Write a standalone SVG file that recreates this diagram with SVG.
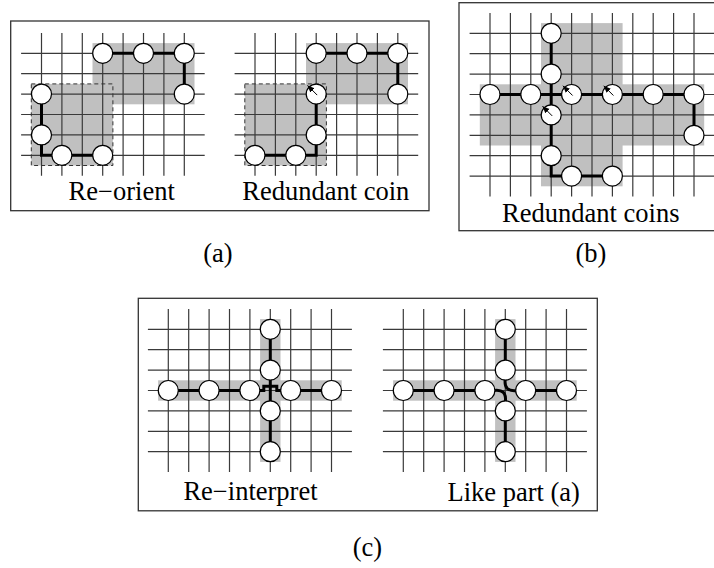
<svg xmlns="http://www.w3.org/2000/svg" xmlns:xlink="http://www.w3.org/1999/xlink" width="714" height="568" viewBox="0 0 714 568">
<style>
.frame{fill:none;stroke:#333;stroke-width:1.3}
.grid{fill:none;stroke:#3a3a3a;stroke-width:1.2}
.shade{fill:#c0c0c0;stroke:none}
.dash{fill:none;stroke:#333;stroke-width:1;stroke-dasharray:4 3}
.bold{fill:none;stroke:#000;stroke-width:3;stroke-linejoin:miter}
.coin{fill:#fff;stroke:#000;stroke-width:1.2}
.arr{fill:none;stroke:#000;stroke-width:1}
text{font-family:"Liberation Serif","Times New Roman",serif;font-size:26.5px;fill:#000;text-anchor:middle}
</style>
<defs>
<marker id="ah" markerUnits="userSpaceOnUse" markerWidth="8" markerHeight="8" viewBox="0 0 8 8" refX="7" refY="4" orient="auto">
<path d="M0,1 L7,4 L0,7 Z" fill="#000"/>
</marker>
<circle id="coin" class="coin" r="10"/>
<path id="gridA" class="grid" d="M0,-20.4V122.4M20.4,-20.4V122.4M40.8,-20.4V122.4M61.2,-20.4V122.4M81.6,-20.4V122.4M102,-20.4V122.4M122.4,-20.4V122.4M142.8,-20.4V122.4M-20.4,0H163.2M-20.4,20.4H163.2M-20.4,40.8H163.2M-20.4,61.2H163.2M-20.4,81.6H163.2M-20.4,102H163.2"/>
<path id="gridB" class="grid" d="M0,-20.4V163.2M20.4,-20.4V163.2M40.8,-20.4V163.2M61.2,-20.4V163.2M81.6,-20.4V163.2M102,-20.4V163.2M122.4,-20.4V163.2M142.8,-20.4V163.2M163.2,-20.4V163.2M183.6,-20.4V163.2M204,-20.4V163.2M-20.4,0H224.4M-20.4,20.4H224.4M-20.4,40.8H224.4M-20.4,61.2H224.4M-20.4,81.6H224.4M-20.4,102H224.4M-20.4,122.4H224.4M-20.4,142.8H224.4"/>
<path id="gridC" class="grid" d="M0,-20.4V142.8M20.4,-20.4V142.8M40.8,-20.4V142.8M61.2,-20.4V142.8M81.6,-20.4V142.8M102,-20.4V142.8M122.4,-20.4V142.8M142.8,-20.4V142.8M163.2,-20.4V142.8M-20.4,0H183.6M-20.4,20.4H183.6M-20.4,40.8H183.6M-20.4,61.2H183.6M-20.4,81.6H183.6M-20.4,102H183.6M-20.4,122.4H183.6"/>
</defs>
<rect width="714" height="568" fill="#fff"/>

<!-- Panel (a) -->
<g id="panel-a">
<rect class="frame" x="10.7" y="21" width="418.3" height="189.7"/>
<g id="reorient" transform="translate(41.5,53.3)">
<rect class="shade" x="51" y="-10.2" width="102" height="61.2"/>
<rect class="shade" x="-10.2" y="30.6" width="81.6" height="81.6"/>
<use xlink:href="#gridA"/>
<rect class="dash" x="-10.2" y="30.6" width="81.6" height="81.6"/>
<g id="reorient-connectors">
<path class="bold" d="M61.2,0H142.8V40.8"/>
<path class="bold" d="M0,40.8V102H61.2"/>
</g>
<g id="reorient-coins">
<use xlink:href="#coin" x="61.2" y="0"/><use xlink:href="#coin" x="102" y="0"/><use xlink:href="#coin" x="142.8" y="0"/><use xlink:href="#coin" x="142.8" y="40.8"/>
<use xlink:href="#coin" x="0" y="40.8"/><use xlink:href="#coin" x="0" y="81.6"/><use xlink:href="#coin" x="20.4" y="102"/><use xlink:href="#coin" x="61.2" y="102"/>
</g>
</g>
<text x="121.7" y="200">Re−orient</text>
<g id="redundant-coin" transform="translate(255,53.3)">
<rect class="shade" x="51" y="-10.2" width="102" height="61.2"/>
<rect class="shade" x="-10.2" y="30.6" width="81.6" height="81.6"/>
<use xlink:href="#gridA"/>
<rect class="dash" x="-10.2" y="30.6" width="81.6" height="81.6"/>
<g id="redundant-coin-connectors">
<path class="bold" d="M61.2,0H142.8V40.8"/>
<path class="bold" d="M0,102H61.2V40.8"/>
</g>
<g id="redundant-coin-coins">
<use xlink:href="#coin" x="61.2" y="0"/><use xlink:href="#coin" x="102" y="0"/><use xlink:href="#coin" x="142.8" y="0"/><use xlink:href="#coin" x="142.8" y="40.8"/>
<use xlink:href="#coin" x="61.2" y="40.8"/><use xlink:href="#coin" x="61.2" y="81.6"/><use xlink:href="#coin" x="0" y="102"/><use xlink:href="#coin" x="40.8" y="102"/>
</g>
<line class="arr" x1="62.2" y1="41.8" x2="52.5" y2="32.1" marker-end="url(#ah)"/>
</g>
<text x="325.8" y="200">Redundant coin</text>
<text x="218" y="262">(a)</text>
</g>

<!-- Panel (b) -->
<g id="panel-b">
<rect class="frame" x="459" y="2.7" width="262" height="228"/>
<g id="redundant-coins" transform="translate(490,33.3)">
<rect class="shade" x="51" y="-10.2" width="81.6" height="163.2"/>
<rect class="shade" x="-10.2" y="51" width="224.4" height="61.2"/>
<use xlink:href="#gridB"/>
<g id="redundant-coins-connectors">
<path class="bold" d="M61.2,0V142.8H122.4"/>
<path class="bold" d="M0,61.2H204V102"/>
</g>
<g id="redundant-coins-coins">
<use xlink:href="#coin" x="61.2" y="0"/><use xlink:href="#coin" x="61.2" y="40.8"/>
<use xlink:href="#coin" x="0" y="61.2"/><use xlink:href="#coin" x="40.8" y="61.2"/><use xlink:href="#coin" x="81.6" y="61.2"/><use xlink:href="#coin" x="122.4" y="61.2"/><use xlink:href="#coin" x="163.2" y="61.2"/><use xlink:href="#coin" x="204" y="61.2"/>
<use xlink:href="#coin" x="61.2" y="81.6"/><use xlink:href="#coin" x="204" y="102"/><use xlink:href="#coin" x="61.2" y="122.4"/><use xlink:href="#coin" x="81.6" y="142.8"/><use xlink:href="#coin" x="122.4" y="142.8"/>
</g>
<line class="arr" x1="82.6" y1="62.2" x2="72.9" y2="52.5" marker-end="url(#ah)"/>
<line class="arr" x1="123.4" y1="62.2" x2="113.7" y2="52.5" marker-end="url(#ah)"/>
<line class="arr" x1="62.2" y1="82.6" x2="52.5" y2="72.9" marker-end="url(#ah)"/>
</g>
<text x="590.8" y="221.7">Redundant coins</text>
<text x="591" y="262">(b)</text>
</g>

<!-- Panel (c) -->
<g id="panel-c">
<rect class="frame" x="138.3" y="298.3" width="459" height="212.5"/>
<g id="reinterpret" transform="translate(168.3,329.3)">
<rect class="shade" x="-10.2" y="51" width="183.6" height="20.4"/>
<rect class="shade" x="91.8" y="-10.2" width="20.4" height="142.8"/>
<use xlink:href="#gridC"/>
<g id="reinterpret-connectors">
<path class="bold" d="M0,61.2H95.5V57H108.5V61.2H163.2"/>
<path class="bold" d="M102,0V122.4"/>
</g>
<g id="reinterpret-coins">
<use xlink:href="#coin" x="0" y="61.2"/><use xlink:href="#coin" x="40.8" y="61.2"/><use xlink:href="#coin" x="81.6" y="61.2"/><use xlink:href="#coin" x="122.4" y="61.2"/><use xlink:href="#coin" x="163.2" y="61.2"/>
<use xlink:href="#coin" x="102" y="0"/><use xlink:href="#coin" x="102" y="40.8"/><use xlink:href="#coin" x="102" y="81.6"/><use xlink:href="#coin" x="102" y="122.4"/>
</g>
</g>
<text x="250.5" y="500">Re−interpret</text>
<g id="like-part-a" transform="translate(403.3,329.3)">
<rect class="shade" x="-10.2" y="51" width="183.6" height="20.4"/>
<rect class="shade" x="91.8" y="-10.2" width="20.4" height="142.8"/>
<use xlink:href="#gridC"/>
<g id="like-part-a-connectors">
<path class="bold" d="M0,61.2H90"/>
<path class="bold" d="M114,61.2H163.2"/>
<path class="bold" d="M102,0V49.5"/>
<path class="bold" d="M102,73V122.4"/>
<path class="bold" d="M90,61.2Q104,59 102,73"/>
<path class="bold" d="M102,49.5Q100,63 114,61.2"/>
</g>
<g id="like-part-a-coins">
<use xlink:href="#coin" x="0" y="61.2"/><use xlink:href="#coin" x="40.8" y="61.2"/><use xlink:href="#coin" x="81.6" y="61.2"/><use xlink:href="#coin" x="122.4" y="61.2"/><use xlink:href="#coin" x="163.2" y="61.2"/>
<use xlink:href="#coin" x="102" y="0"/><use xlink:href="#coin" x="102" y="40.8"/><use xlink:href="#coin" x="102" y="81.6"/><use xlink:href="#coin" x="102" y="122.4"/>
</g>
</g>
<text x="513.7" y="501">Like part (a)</text>
<text x="367.5" y="556">(c)</text>
</g>
</svg>
